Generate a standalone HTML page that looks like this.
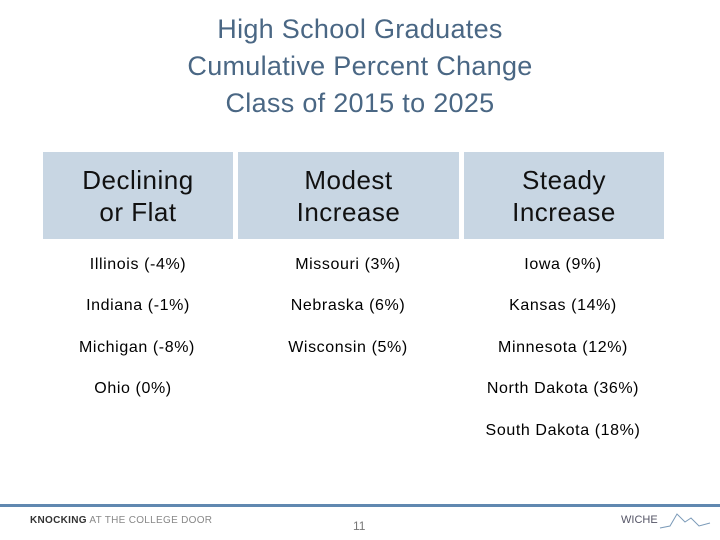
<!DOCTYPE html>
<html><head><meta charset="utf-8"><style>
body{margin:0;width:720px;height:540px;background:#fff;position:relative;overflow:hidden;font-family:"Liberation Sans",sans-serif}
.t{position:absolute;left:0;width:720px;text-align:center;color:#4a6784;font-size:27px;line-height:37px;top:11px;letter-spacing:0.3px}
.h{position:absolute;top:152px;height:87px;background:#c8d6e3;color:#111;font-size:26px;line-height:32px;letter-spacing:0.5px;display:flex;align-items:center;justify-content:center;text-align:center}
.c{position:absolute;font-size:16px;letter-spacing:0.6px;color:#000;transform:translate(-50%,-50%);white-space:nowrap}
</style></head><body>
<div class="t">High School Graduates<br>Cumulative Percent Change<br>Class of 2015 to 2025</div>
<div class="h" style="left:43px;width:190px">Declining<br>or Flat</div>
<div class="h" style="left:238px;width:221px">Modest<br>Increase</div>
<div class="h" style="left:464px;width:200px">Steady<br>Increase</div>
<div class="c" style="left:138px;top:265px">Illinois (-4%)</div>
<div class="c" style="left:138px;top:306px">Indiana (-1%)</div>
<div class="c" style="left:137px;top:348px">Michigan (-8%)</div>
<div class="c" style="left:133px;top:389px">Ohio (0%)</div>
<div class="c" style="left:348px;top:265px">Missouri (3%)</div>
<div class="c" style="left:348px;top:306px">Nebraska (6%)</div>
<div class="c" style="left:348px;top:348px">Wisconsin (5%)</div>
<div class="c" style="left:563px;top:265px">Iowa (9%)</div>
<div class="c" style="left:563px;top:306px">Kansas (14%)</div>
<div class="c" style="left:563px;top:348px">Minnesota (12%)</div>
<div class="c" style="left:563px;top:389px">North Dakota (36%)</div>
<div class="c" style="left:563px;top:431px">South Dakota (18%)</div>
<div style="position:absolute;left:0;top:504px;width:720px;height:3px;background:#6088b0"></div>
<div style="position:absolute;left:30px;top:515px;font-size:10px;color:#333;letter-spacing:0.3px"><b>KNOCKING</b> <span style="color:#888">AT THE COLLEGE DOOR</span></div>
<div style="position:absolute;left:353px;top:519px;font-size:12px;color:#777">11</div>
<div style="position:absolute;left:621px;top:514px;font-size:11px;color:#556">WICHE</div>
<svg style="position:absolute;left:655px;top:508px" width="60" height="25"><polyline points="5,20 15,18 22,6 30,14 36,10 44,18 55,15" fill="none" stroke="#7a9ab8" stroke-width="1"/></svg>
</body></html>
